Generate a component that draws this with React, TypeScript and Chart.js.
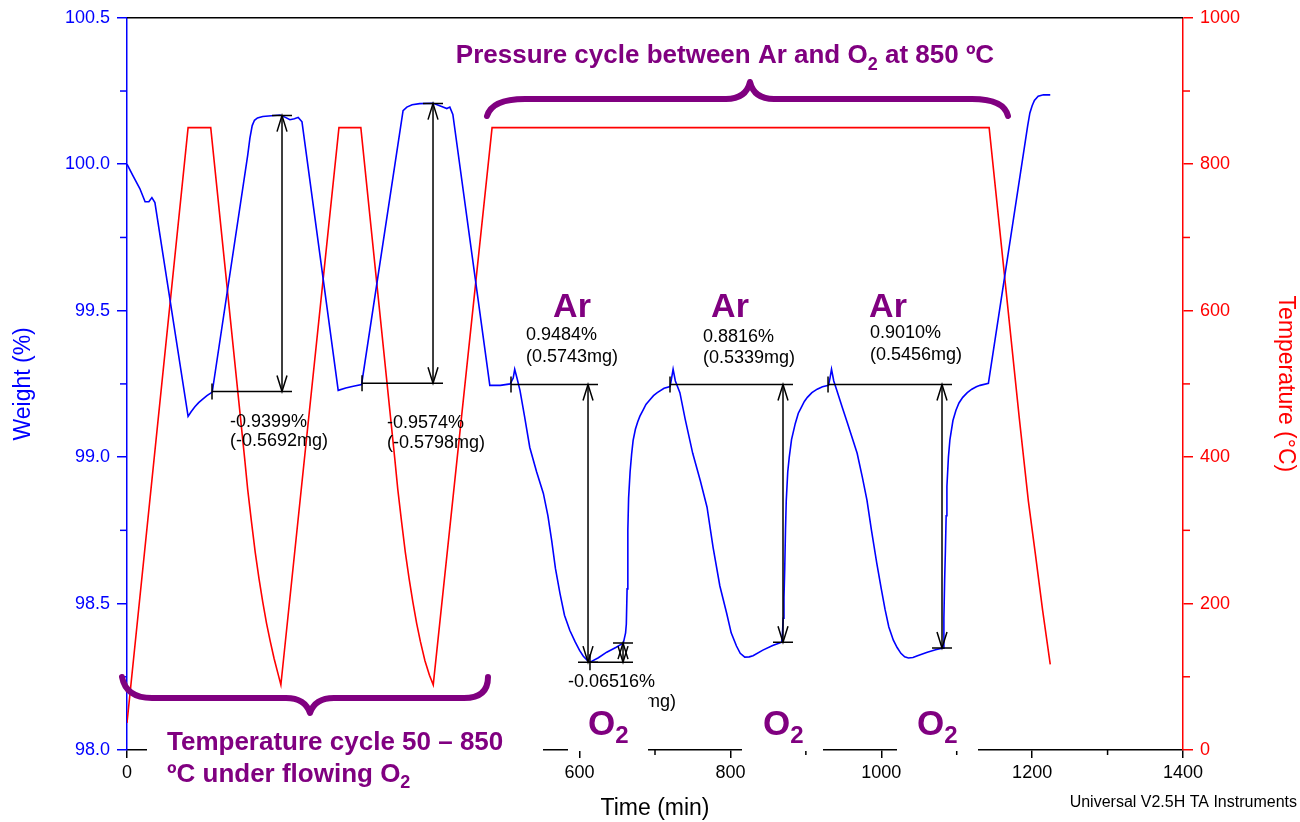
import React, { useEffect, useRef } from "react";
import { Chart, registerables } from "chart.js";

Chart.register(...registerables);

const FONT = '"Liberation Sans", Arial, Helvetica, sans-serif';
const PURPLE = "#800080";
const BLUE = "#0000ff";
const RED = "#ff0000";

// ---- Weight (%) trace ----
const weightTime = [
  0, 8, 17, 24, 29, 33, 37, 81, 85, 90, 95, 100, 106, 113, 160, 163, 166, 169, 173, 180,
  203, 210, 216, 222, 227, 232, 280, 290, 300, 311, 366, 371, 378, 388, 406, 418, 424, 428,
  432, 481, 495, 508, 512, 514, 517, 521, 527, 534, 543, 552, 558, 563, 568, 574, 580, 587,
  594, 600, 605, 610, 614, 625, 636, 648, 658, 661, 662, 663, 664, 665, 667, 669, 671, 674,
  677, 680, 684, 688, 693, 698, 703, 712, 720, 722, 724, 727, 733, 740, 750, 760, 769, 773,
  777, 786, 795, 801, 808, 813, 819, 825, 830, 843, 856, 868, 869, 870, 871, 872, 873, 874,
  876, 878, 881, 886, 890, 894, 898, 902, 908, 915, 922, 930, 932, 934, 937, 941, 948, 955,
  960, 968, 975, 981, 987, 994, 1000, 1005, 1010, 1016, 1021, 1026, 1031, 1036, 1042, 1048,
  1061, 1072, 1082, 1083, 1084, 1085, 1086, 1087, 1089, 1091, 1095, 1099, 1103, 1108, 1114,
  1120, 1126, 1131, 1142, 1194, 1197, 1200, 1203, 1208, 1215, 1224,
];
const weightPct = [
  100.0, 99.96, 99.917, 99.872, 99.872, 99.886, 99.869, 99.139, 99.155, 99.172, 99.186,
  99.197, 99.21, 99.222, 100.03, 100.09, 100.132, 100.15, 100.158, 100.163, 100.168, 100.16,
  100.152, 100.155, 100.16, 100.145, 99.228, 99.236, 99.242, 99.248, 100.183, 100.195,
  100.203, 100.207, 100.208, 100.196, 100.19, 100.195, 100.17, 99.245, 99.245, 99.25, 99.27,
  99.3, 99.27, 99.228, 99.14, 99.033, 98.95, 98.876, 98.8, 98.716, 98.62, 98.535, 98.46,
  98.409, 98.37, 98.34, 98.32, 98.307, 98.3, 98.315, 98.334, 98.35, 98.365, 98.4, 98.43,
  98.55, 98.75, 98.86, 98.95, 99.01, 99.057, 99.095, 99.12, 99.14, 99.16, 99.18, 99.195,
  99.21, 99.22, 99.235, 99.241, 99.27, 99.3, 99.26, 99.22, 99.13, 99.013, 98.92, 98.829,
  98.76, 98.692, 98.56, 98.467, 98.4, 98.355, 98.33, 98.317, 98.318, 98.322, 98.341, 98.357,
  98.368, 98.4, 98.45, 98.52, 98.62, 98.75, 98.85, 98.95, 99.0, 99.06, 99.115, 99.15, 99.17,
  99.19, 99.204, 99.22, 99.232, 99.24, 99.245, 99.27, 99.3, 99.26, 99.228, 99.172, 99.117,
  99.077, 99.013, 98.93, 98.853, 98.75, 98.638, 98.55, 98.48, 98.42, 98.375, 98.35, 98.33,
  98.318, 98.314, 98.316, 98.322, 98.334, 98.342, 98.348, 98.45, 98.58, 98.68, 98.8, 98.9,
  99.0, 99.06, 99.125, 99.16, 99.185, 99.204, 99.22, 99.232, 99.24, 99.245, 99.252, 100.13,
  100.175, 100.2, 100.218, 100.232, 100.237, 100.237,
];

// ---- Temperature (°C) trace ----
const tempTime = [
  0, 81, 111, 156, 160, 165, 170, 175, 180, 185, 190, 195, 200, 204, 281, 310, 355, 359,
  364, 369, 374, 379, 384, 389, 395, 401, 406, 484, 1143, 1183, 1195, 1204, 1214, 1224,
];
const tempC = [
  37, 850, 850, 398, 356, 312, 270, 234, 202, 173, 148, 125, 105, 89, 850, 850, 398, 356,
  312, 270, 234, 202, 173, 148, 122, 102, 89, 850, 850, 453, 340, 270, 190, 117,
];

// ---- Step measurements (time in min, weight in %) ----
const stepStartTime = [112.7, 311.6, 509.1, 719.9, 929.4, 613.8];
const stepArrowTime = [205.5, 405.7, 611.2, 869.7, 1080.5, 657.6];
const stepBaseWeight = [99.224, 99.252, 99.248, 99.248, 99.248, 98.3];
const stepEndWeight = [100.166, 100.207, 98.3, 98.368, 98.348, 98.365];
const stepPercent = ["-0.9399%", "-0.9574%", "0.9484%", "0.8816%", "0.9010%", "-0.06516%"];
const stepMass = ["(-0.5692mg)", "(-0.5798mg)", "(0.5743mg)", "(0.5339mg)", "(0.5456mg)", "(-0.03946mg)"];

// label layout (pixel offsets from arrow x / baseline y)
const labelLayout = [
  { dx: -52, dy1: 31, dy2: 50 },
  { dx: -46, dy1: 40, dy2: 60 },
  { dx: -62, dy1: -49, dy2: -27 },
  { dx: -80, dy1: -47, dy2: -26 },
  { dx: -72, dy1: -51, dy2: -29 },
  { dx: -55, dy1: 20, dy2: 40 },
];

const arLabelX = [572, 730, 888];
const o2LabelX = [588, 763, 917];

type Part = { t: string; sub?: boolean };

function richWidth(ctx: CanvasRenderingContext2D, parts: Part[], size: number, subSize: number) {
  let w = 0;
  for (const p of parts) {
    ctx.font = `bold ${p.sub ? subSize : size}px ${FONT}`;
    w += ctx.measureText(p.t).width;
  }
  return w;
}

function drawRich(
  ctx: CanvasRenderingContext2D,
  parts: Part[],
  x: number,
  baseline: number,
  size: number,
  subSize: number,
  subOffset: number,
  align: "left" | "center"
) {
  let cx = x;
  if (align === "center") cx = x - richWidth(ctx, parts, size, subSize) / 2;
  ctx.textAlign = "left";
  ctx.textBaseline = "alphabetic";
  for (const p of parts) {
    ctx.font = `bold ${p.sub ? subSize : size}px ${FONT}`;
    ctx.fillText(p.t, cx, baseline + (p.sub ? subOffset : 0));
    cx += ctx.measureText(p.t).width;
  }
}

function arrowHead(ctx: CanvasRenderingContext2D, x: number, tipY: number, backDir: number) {
  ctx.beginPath();
  ctx.moveTo(x - 5, tipY + backDir * 16);
  ctx.lineTo(x, tipY);
  ctx.lineTo(x + 5, tipY + backDir * 16);
  ctx.stroke();
}

const overlayPlugin = {
  id: "overlay",
  afterDraw(chart: any) {
    const ctx: CanvasRenderingContext2D = chart.ctx;
    const xs = chart.scales.x;
    const ys = chart.scales.y;
    const y1 = chart.scales.y1;
    const area = chart.chartArea;
    ctx.save();

    // top frame line
    ctx.strokeStyle = "#000";
    ctx.lineWidth = 1.5;
    ctx.beginPath();
    ctx.moveTo(area.left, area.top);
    ctx.lineTo(area.right, area.top);
    ctx.stroke();

    // minor ticks
    ctx.lineWidth = 1.5;
    ctx.strokeStyle = "#000";
    for (let v = 100; v < 1400; v += 200) {
      const px = xs.getPixelForValue(v);
      ctx.beginPath();
      ctx.moveTo(px, area.bottom);
      ctx.lineTo(px, area.bottom + 5);
      ctx.stroke();
    }
    ctx.strokeStyle = BLUE;
    for (let k = 0; k < 5; k++) {
      const py = ys.getPixelForValue(98.25 + k * 0.5);
      ctx.beginPath();
      ctx.moveTo(area.left - 7, py);
      ctx.lineTo(area.left, py);
      ctx.stroke();
    }
    ctx.strokeStyle = RED;
    for (let v = 100; v < 1000; v += 200) {
      const py = y1.getPixelForValue(v);
      ctx.beginPath();
      ctx.moveTo(area.right, py);
      ctx.lineTo(area.right + 7, py);
      ctx.stroke();
    }

    // step measurements
    ctx.strokeStyle = "#000";
    ctx.fillStyle = "#000";
    ctx.lineWidth = 1.5;
    for (let i = 0; i < stepStartTime.length; i++) {
      const x0 = xs.getPixelForValue(stepStartTime[i]);
      const xa = xs.getPixelForValue(stepArrowTime[i]);
      const yb = ys.getPixelForValue(stepBaseWeight[i]);
      const ye = ys.getPixelForValue(stepEndWeight[i]);
      ctx.beginPath();
      ctx.moveTo(x0, yb);
      ctx.lineTo(xa + 10, yb);
      ctx.moveTo(x0, yb - 8);
      ctx.lineTo(x0, yb + 8);
      ctx.moveTo(xa - 10, ye);
      ctx.lineTo(xa + 10, ye);
      ctx.moveTo(xa, yb);
      ctx.lineTo(xa, ye);
      ctx.stroke();
      const dir = Math.sign(yb - ye);
      arrowHead(ctx, xa, ye, dir);
      arrowHead(ctx, xa, yb, -dir);
      const L = labelLayout[i];
      ctx.font = `18px ${FONT}`;
      ctx.textAlign = "left";
      ctx.textBaseline = "middle";
      ctx.fillText(stepPercent[i], xa + L.dx, yb + L.dy1);
      ctx.fillText(stepMass[i], xa + L.dx, yb + L.dy2);
    }

    // braces
    ctx.strokeStyle = PURPLE;
    ctx.lineWidth = 6;
    ctx.lineCap = "round";
    ctx.lineJoin = "round";
    // bottom brace
    ctx.beginPath();
    ctx.moveTo(122, 677);
    ctx.quadraticCurveTo(126, 698, 152, 698);
    ctx.lineTo(286, 698);
    ctx.quadraticCurveTo(305, 698, 310, 713);
    ctx.quadraticCurveTo(315, 698, 334, 698);
    ctx.lineTo(464, 698);
    ctx.quadraticCurveTo(488, 698, 488, 677);
    ctx.stroke();
    // top brace
    ctx.beginPath();
    ctx.moveTo(487, 116);
    ctx.quadraticCurveTo(492, 99, 525, 99);
    ctx.lineTo(726, 99);
    ctx.quadraticCurveTo(746, 99, 750, 82);
    ctx.quadraticCurveTo(754, 99, 774, 99);
    ctx.lineTo(972, 99);
    ctx.quadraticCurveTo(1004, 99, 1008, 116);
    ctx.stroke();

    // white label boxes
    ctx.fillStyle = "#fff";
    ctx.fillRect(147, 728, 396, 75);
    ctx.fillRect(568, 692, 80, 59);
    ctx.fillRect(742, 692, 81, 59);
    ctx.fillRect(897, 692, 81, 59);

    // purple labels
    ctx.fillStyle = PURPLE;
    drawRich(ctx, [{ t: "Pressure cycle between Ar and O" }, { t: "2", sub: true }, { t: " at 850 ºC" }], 725, 63, 26, 18, 7, "center");
    drawRich(ctx, [{ t: "Temperature cycle 50 – 850" }], 167, 750, 26, 18, 7, "left");
    drawRich(ctx, [{ t: "ºC under flowing O" }, { t: "2", sub: true }], 167, 782, 26, 18, 6, "left");
    for (const x of arLabelX) {
      drawRich(ctx, [{ t: "Ar" }], x, 317, 34, 24, 8, "center");
    }
    for (const x of o2LabelX) {
      drawRich(ctx, [{ t: "O" }, { t: "2", sub: true }], x, 735, 35, 24, 8, "left");
    }

    // footer
    ctx.fillStyle = "#000";
    ctx.font = `16px ${FONT}`;
    ctx.textAlign = "right";
    ctx.textBaseline = "middle";
    ctx.fillText("Universal V2.5H TA Instruments", 1297, 803);

    ctx.restore();
  },
};

export default function App() {
  const ref = useRef<HTMLCanvasElement>(null);

  useEffect(() => {
    const isHalf = (v: number) => Math.abs(v * 2 - Math.round(v * 2)) < 1e-6;
    const chart = new Chart(ref.current as HTMLCanvasElement, {
      type: "line",
      data: {
        datasets: [
          {
            label: "Weight",
            data: weightTime.map((t, i) => ({ x: t, y: weightPct[i] })),
            borderColor: BLUE,
            borderWidth: 1.6,
            pointRadius: 0,
            yAxisID: "y",
            tension: 0,
          },
          {
            label: "Temperature",
            data: tempTime.map((t, i) => ({ x: t, y: tempC[i] })),
            borderColor: RED,
            borderWidth: 1.6,
            pointRadius: 0,
            yAxisID: "y1",
            tension: 0,
          },
        ],
      },
      options: {
        responsive: false,
        animation: false,
        devicePixelRatio: 1,
        events: [],
        layout: { padding: { top: 17, left: 0, right: 0, bottom: 0 } },
        plugins: { legend: { display: false }, tooltip: { enabled: false } },
        scales: {
          x: {
            type: "linear",
            position: "bottom",
            min: 0,
            max: 1400,
            afterFit: (s: any) => {
              s.height = 72;
            },
            ticks: {
              stepSize: 100,
              autoSkip: false,
              maxRotation: 0,
              color: "#000",
              padding: 4,
              font: { family: FONT, size: 18 },
              callback: (v: any) => (Number(v) % 200 === 0 ? String(v) : ""),
            },
            grid: {
              drawOnChartArea: false,
              drawTicks: true,
              tickLength: 8,
              lineWidth: 1.5,
              tickColor: (c: any) => (c.tick && c.tick.value % 200 === 0 ? "#000" : "rgba(0,0,0,0)"),
            },
            border: { display: true, color: "#000", width: 1.5 },
            title: {
              display: true,
              text: "Time (min)",
              color: "#000",
              font: { family: FONT, size: 23 },
              padding: { top: 0, bottom: 0 },
            },
          },
          y: {
            type: "linear",
            position: "left",
            min: 98,
            max: 100.5,
            afterFit: (s: any) => {
              s.width = 127;
            },
            ticks: {
              stepSize: 0.25,
              autoSkip: false,
              color: BLUE,
              padding: 7,
              font: { family: FONT, size: 18 },
              callback: (v: any) => (isHalf(Number(v)) ? Number(v).toFixed(1) : ""),
            },
            grid: {
              drawOnChartArea: false,
              drawTicks: true,
              tickLength: 10,
              lineWidth: 1.5,
              tickColor: (c: any) => (c.tick && isHalf(c.tick.value) ? BLUE : "rgba(0,0,0,0)"),
            },
            border: { display: true, color: BLUE, width: 1.5 },
            title: {
              display: true,
              text: "Weight (%)",
              color: BLUE,
              font: { family: FONT, size: 23 },
              padding: { top: 10, bottom: 0 },
            },
          },
          y1: {
            type: "linear",
            position: "right",
            min: 0,
            max: 1000,
            afterFit: (s: any) => {
              s.width = 117;
            },
            ticks: {
              stepSize: 100,
              autoSkip: false,
              color: RED,
              padding: 7,
              font: { family: FONT, size: 18 },
              callback: (v: any) => (Number(v) % 200 === 0 ? String(v) : ""),
            },
            grid: {
              drawOnChartArea: false,
              drawTicks: true,
              tickLength: 10,
              lineWidth: 1.5,
              tickColor: (c: any) => (c.tick && c.tick.value % 200 === 0 ? RED : "rgba(0,0,0,0)"),
            },
            border: { display: true, color: RED, width: 1.5 },
            title: {
              display: true,
              text: "Temperature (°C)",
              color: RED,
              font: { family: FONT, size: 23 },
              padding: { top: 1, bottom: 0 },
            },
          },
        },
      } as any,
      plugins: [overlayPlugin],
    });
    return () => chart.destroy();
  }, []);

  return (
    <div style={{ position: "absolute", left: 0, top: 0, width: 1300, height: 822, background: "#fff" }}>
      <canvas ref={ref} width={1300} height={822} style={{ display: "block" }} />
    </div>
  );
}
